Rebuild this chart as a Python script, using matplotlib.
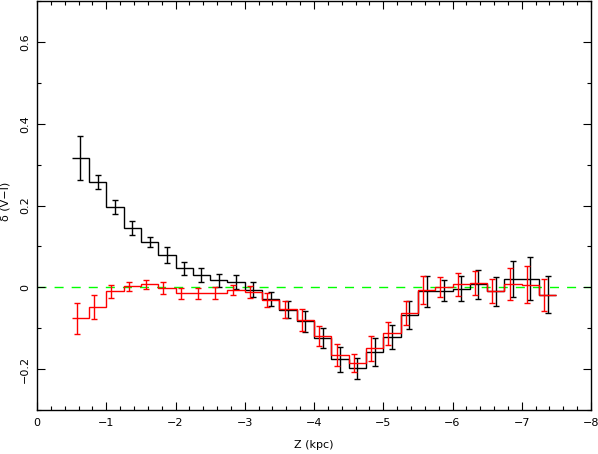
import matplotlib
matplotlib.use("Agg")
import matplotlib.pyplot as plt
import numpy as np
from matplotlib.ticker import MultipleLocator

# Bin edges (kpc), width 0.25 from -0.5 to -7.5
bin_edges = [-0.5 - 0.25 * i for i in range(29)]

black_vals = [0.316, 0.258, 0.196, 0.146, 0.111, 0.079, 0.047, 0.030, 0.017, 0.012,
              -0.006, -0.028, -0.055, -0.083, -0.124, -0.176, -0.198, -0.159, -0.121, -0.068,
              -0.010, -0.008, -0.003, 0.007, -0.010, 0.021, 0.021, -0.018]
black_errs = [0.054, 0.017, 0.018, 0.017, 0.013, 0.020, 0.016, 0.016, 0.016, 0.017,
              0.018, 0.017, 0.021, 0.026, 0.025, 0.031, 0.025, 0.034, 0.030, 0.034,
              0.038, 0.026, 0.031, 0.035, 0.035, 0.044, 0.053, 0.045]

red_vals = [-0.076, -0.048, -0.010, 0.002, 0.007, -0.002, -0.015, -0.015, -0.014, -0.007,
            -0.012, -0.032, -0.054, -0.080, -0.119, -0.165, -0.185, -0.149, -0.112, -0.063,
            -0.006, 0.001, 0.007, 0.011, -0.009, 0.009, 0.006, -0.018]
red_errs = [0.037, 0.029, 0.015, 0.012, 0.011, 0.015, 0.014, 0.014, 0.014, 0.013,
            0.015, 0.017, 0.020, 0.026, 0.024, 0.027, 0.023, 0.030, 0.028, 0.029,
            0.034, 0.024, 0.028, 0.030, 0.030, 0.039, 0.045, 0.039]

red_offset = 0.05  # red error bars drawn at slightly smaller |Z|

fig = plt.figure(figsize=(5.98, 4.54), dpi=100)
ax = fig.add_axes([37/598, 1 - 410/454, (591-37)/598, (410-1)/454])

edges = np.array(bin_edges)
centers = (edges[:-1] + edges[1:]) / 2

ax.axhline(0, color='#00ff00', lw=1.0, ls=(0, (6.5, 5.8)), zorder=1)

ax.stairs(black_vals, edges, baseline=None, color='black', lw=1.0, zorder=2)
ax.errorbar(centers, black_vals, yerr=black_errs, fmt='none', ecolor='black',
            elinewidth=1.0, capsize=2, capthick=1.0, zorder=2)

ax.stairs(red_vals, edges, baseline=None, color='red', lw=1.0, zorder=3)
ax.errorbar(centers + red_offset, red_vals, yerr=red_errs, fmt='none', ecolor='red',
            elinewidth=1.0, capsize=2, capthick=1.0, zorder=3)

ax.set_xlim(0, -8)
ax.set_ylim(-0.3, 0.7)
ax.xaxis.set_major_locator(MultipleLocator(1))
ax.xaxis.set_minor_locator(MultipleLocator(0.2))
ax.yaxis.set_major_locator(MultipleLocator(0.2))
ax.yaxis.set_minor_locator(MultipleLocator(0.1))
ax.tick_params(which='both', direction='in', top=True, right=True, labelsize=8,
               width=0.8)
ax.tick_params(which='major', length=6)
ax.tick_params(which='minor', length=3)

def fmt(v, pos):
    s = ('%g' % round(v, 2))
    return s.replace('-', '\u2212')
ax.xaxis.set_major_formatter(matplotlib.ticker.FuncFormatter(fmt))
ax.yaxis.set_major_formatter(matplotlib.ticker.FuncFormatter(fmt))
ax.tick_params(axis='y', labelrotation=90, pad=5)
ax.tick_params(axis='x', pad=6)
for lab in ax.get_yticklabels():
    lab.set_va('center')

for sp in ax.spines.values():
    sp.set_linewidth(1.0)

ax.set_xlabel('Z (kpc)', fontsize=8)
ax.xaxis.set_label_coords(0.5, -(440 - 410) / 409)
ax.set_ylabel('\u03b4 (V\u2212I)', fontsize=8)
ax.yaxis.set_label_coords((11 - 37) / 554, 0.51)

fig.savefig('out.png', dpi=100)
